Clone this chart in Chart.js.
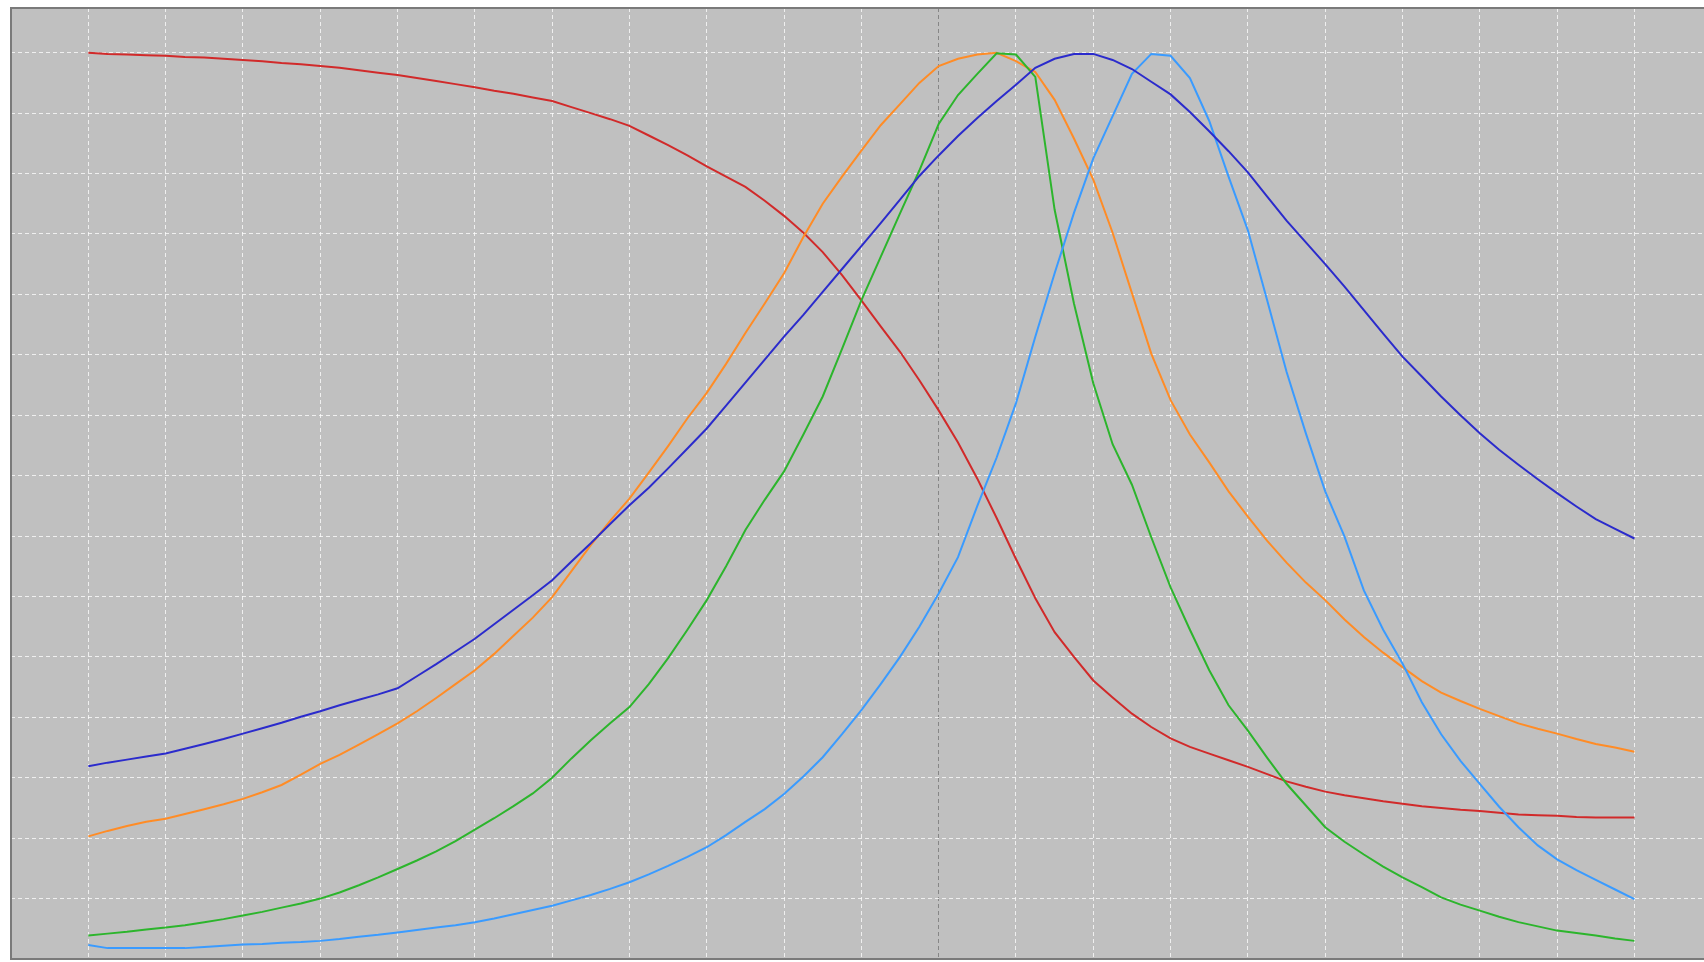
<!DOCTYPE html>
<html>
<head>
<meta charset="utf-8">
<script src="https://cdn.jsdelivr.net/npm/chart.js@4.4.1/dist/chart.umd.min.js"></script>
<style>
    html, body { margin: 0; padding: 0; background: #ffffff; overflow: hidden; }
    #chart-container { width: 1704px; height: 962px; }
</style>
</head>
<body>
<div id="chart-container"><canvas id="chart"></canvas></div>
<script>
// x positions, in grid units (one grid cell = 1)
const xValues = [
    1, 1.25, 1.5, 1.75, 2, 2.25, 2.5, 2.75, 3, 3.25, 3.5, 3.75,
    4, 4.25, 4.5, 4.75, 5, 5.25, 5.5, 5.75, 6, 6.25, 6.5, 6.75,
    7, 7.25, 7.5, 7.75, 8, 8.25, 8.5, 8.75, 9, 9.25, 9.5, 9.75,
    10, 10.25, 10.5, 10.75, 11, 11.25, 11.5, 11.75, 12, 12.25, 12.5, 12.75,
    13, 13.25, 13.5, 13.75, 14, 14.25, 14.5, 14.75, 15, 15.25, 15.5, 15.75,
    16, 16.25, 16.5, 16.75, 17, 17.25, 17.5, 17.75, 18, 18.25, 18.5, 18.75,
    19, 19.25, 19.5, 19.75, 20, 20.25, 20.5, 20.75, 21
]

const redSeries = [
    15.00, 14.98, 14.97, 14.96,  14.95, 14.93, 14.92, 14.90,  14.88, 14.86, 14.83, 14.81,
    14.78, 14.75, 14.71, 14.67,  14.63, 14.58, 14.53, 14.48,  14.43, 14.37, 14.32, 14.26,
    14.20, 14.10, 14.00, 13.90,  13.79, 13.63, 13.47, 13.30,  13.12, 12.95, 12.78, 12.55,
    12.30, 12.02, 11.70, 11.32,  10.90, 10.47, 10.05, 9.58,   9.08, 8.55, 7.95, 7.30,
    6.62, 5.97, 5.41, 5.00,      4.61, 4.33, 4.06, 3.84,      3.65, 3.51, 3.40, 3.29,
    3.18, 3.06, 2.94, 2.85,      2.77, 2.71, 2.66, 2.61,      2.57, 2.53, 2.50, 2.47,
    2.45, 2.42, 2.39, 2.38,      2.37, 2.35, 2.34, 2.34,      2.34
]

const orangeSeries = [
    2.03, 2.12, 2.20, 2.27,      2.32, 2.40, 2.48, 2.56,      2.65, 2.76, 2.88, 3.05,
    3.23, 3.38, 3.55, 3.72,      3.90, 4.10, 4.32, 4.55,      4.78, 5.05, 5.35, 5.65,
    5.99, 6.42, 6.85, 7.25,      7.62, 8.05, 8.49, 8.95,      9.37, 9.85, 10.36, 10.85,
    11.35, 11.95, 12.50, 12.95,  13.38, 13.80, 14.15, 14.50,  14.78, 14.90, 14.97, 15.00,
    14.86, 14.68, 14.22, 13.58,  12.90, 12.02, 11.02, 10.02,  9.25, 8.68, 8.22, 7.74,
    7.32, 6.92, 6.56, 6.23,      5.94, 5.62, 5.33, 5.07,      4.83, 4.60, 4.41, 4.27,
    4.14, 4.02, 3.90, 3.81,      3.73, 3.64, 3.56, 3.50,      3.43
]

const greenSeries = [
    0.39, 0.42, 0.45, 0.49,      0.52, 0.56, 0.61, 0.66,      0.72, 0.78, 0.85, 0.92,
    1.00, 1.10, 1.22, 1.35,      1.49, 1.63, 1.78, 1.95,      2.14, 2.33, 2.53, 2.74,
    3.00, 3.32, 3.62, 3.90,      4.17, 4.55, 4.98, 5.45,      5.94, 6.50, 7.10, 7.60,
    8.07, 8.68, 9.31, 10.10,     10.90, 11.62, 12.34, 13.05,  13.82, 14.30, 14.65, 14.99,
    14.97, 14.60, 12.40, 10.85,  9.53, 8.52, 7.85, 6.98,      6.15, 5.45, 4.78, 4.20,
    3.78, 3.33, 2.90, 2.54,      2.18, 1.94, 1.73, 1.53,      1.35, 1.19, 1.02, 0.90,
    0.80, 0.70, 0.61, 0.54,      0.47, 0.43, 0.39, 0.34,      0.30
]

const skyBlueSeries = [
    0.23, 0.18, 0.18, 0.18,      0.18, 0.18, 0.20, 0.22,      0.24, 0.25, 0.27, 0.28,
    0.30, 0.33, 0.37, 0.40,      0.44, 0.48, 0.52, 0.56,      0.61, 0.67, 0.74, 0.81,
    0.88, 0.97, 1.06, 1.16,      1.27, 1.40, 1.54, 1.69,      1.85, 2.05, 2.27, 2.48,
    2.73, 3.02, 3.34, 3.72,      4.12, 4.55, 5.00, 5.50,      6.05, 6.65, 7.50, 8.30,
    9.20, 10.30, 11.35, 12.35,   13.25, 13.95, 14.65, 14.98,  14.95, 14.58, 13.87, 12.95,
    12.06, 10.90, 9.72, 8.70,    7.74, 6.99, 6.10, 5.45,      4.89, 4.25, 3.72, 3.28,
    2.90, 2.52, 2.18, 1.88,      1.65, 1.47, 1.31, 1.15,      0.99
]

const navySeries = [
    3.19, 3.25, 3.30, 3.35,      3.40, 3.48, 3.56, 3.64,      3.73, 3.82, 3.91, 4.01,
    4.10, 4.20, 4.29, 4.38,      4.48, 4.68, 4.88, 5.09,      5.30, 5.54, 5.78, 6.02,
    6.27, 6.58, 6.88, 7.20,      7.51, 7.80, 8.12, 8.45,      8.78, 9.16, 9.54, 9.92,
    10.30, 10.66, 11.04, 11.42,  11.80, 12.18, 12.57, 12.96,  13.30, 13.62, 13.92, 14.20,
    14.47, 14.75, 14.90, 14.98,  14.98, 14.88, 14.73, 14.52,  14.31, 14.02, 13.70, 13.37,
    13.02, 12.62, 12.22, 11.86,  11.50, 11.13, 10.74, 10.35,  9.97, 9.64, 9.31, 9.00,
    8.70, 8.43, 8.18, 7.94,      7.71, 7.49, 7.28, 7.12,      6.96
]

// grid positions
const xTicks = [0, 1, 2, 3, 4, 5, 6, 7, 8, 9, 10, 11, 12, 13, 14, 15, 16, 17, 18, 19, 20, 21]
const yTicks = [0, 1, 2, 3, 4, 5, 6, 7, 8, 9, 10, 11, 12, 13, 14, 15]
const centerTick = 12

const toPoints = (series) => xValues.map((x, i) => ({ x: x, y: series[i] }))

// grey plot background and the dark frame
const frame = {
    id: 'frame',
    beforeDraw: (chart) => {
        const { ctx, chartArea } = chart
        ctx.save()
        ctx.fillStyle = '#c0c0c0'
        ctx.fillRect(chartArea.left, chartArea.top, chartArea.right - chartArea.left, chartArea.bottom - chartArea.top)
        ctx.restore()
    },
    afterDraw: (chart) => {
        const { ctx, chartArea } = chart
        ctx.save()
        ctx.strokeStyle = '#7a7a7a'
        ctx.lineWidth = 2
        ctx.beginPath()
        ctx.moveTo(chartArea.right + 2, chartArea.top)
        ctx.lineTo(chartArea.left, chartArea.top)
        ctx.lineTo(chartArea.left, chartArea.bottom)
        ctx.lineTo(chartArea.right + 2, chartArea.bottom)
        ctx.stroke()
        ctx.restore()
    }
}

const lineSet = (data, color) => ({
    data: toPoints(data),
    borderColor: color,
    backgroundColor: color,
    borderWidth: 2,
    pointRadius: 0,
    tension: 0,
    fill: false
})

const context = document.getElementById('chart').getContext('2d')
const chart = new Chart(context, {
    type: 'line',
    data: {
        datasets: [
            lineSet(navySeries, '#2b2bcc'),
            lineSet(skyBlueSeries, '#3a9bff'),
            lineSet(greenSeries, '#2cb52c'),
            lineSet(orangeSeries, '#ff8c26'),
            lineSet(redSeries, '#d12a2a')
        ]
    },
    options: {
        responsive: true,
        maintainAspectRatio: false,
        animation: false,
        layout: {
            padding: { left: 11, top: 8, right: 0, bottom: 3 }
        },
        plugins: {
            legend: { display: false },
            tooltip: { enabled: false }
        },
        scales: {
            x: {
                type: 'linear',
                min: 0,
                max: 21.9,
                afterBuildTicks: (scale) => { scale.ticks = xTicks.map(v => ({ value: v })) },
                ticks: { display: false },
                grid: {
                    drawTicks: false,
                    lineWidth: 1,
                    color: (ctx) => ctx.tick && ctx.tick.value === centerTick ? 'rgba(110,110,110,0.7)' : 'rgba(255,255,255,0.75)'
                },
                border: { display: false, dash: [4, 3] }
            },
            y: {
                type: 'linear',
                min: 0,
                max: 15.74,
                afterBuildTicks: (scale) => { scale.ticks = yTicks.map(v => ({ value: v })) },
                ticks: { display: false },
                grid: {
                    drawTicks: false,
                    lineWidth: 1,
                    color: 'rgba(255,255,255,0.75)'
                },
                border: { display: false, dash: [4, 3] }
            }
        }
    },
    plugins: [frame]
})
</script>
</body>
</html>
